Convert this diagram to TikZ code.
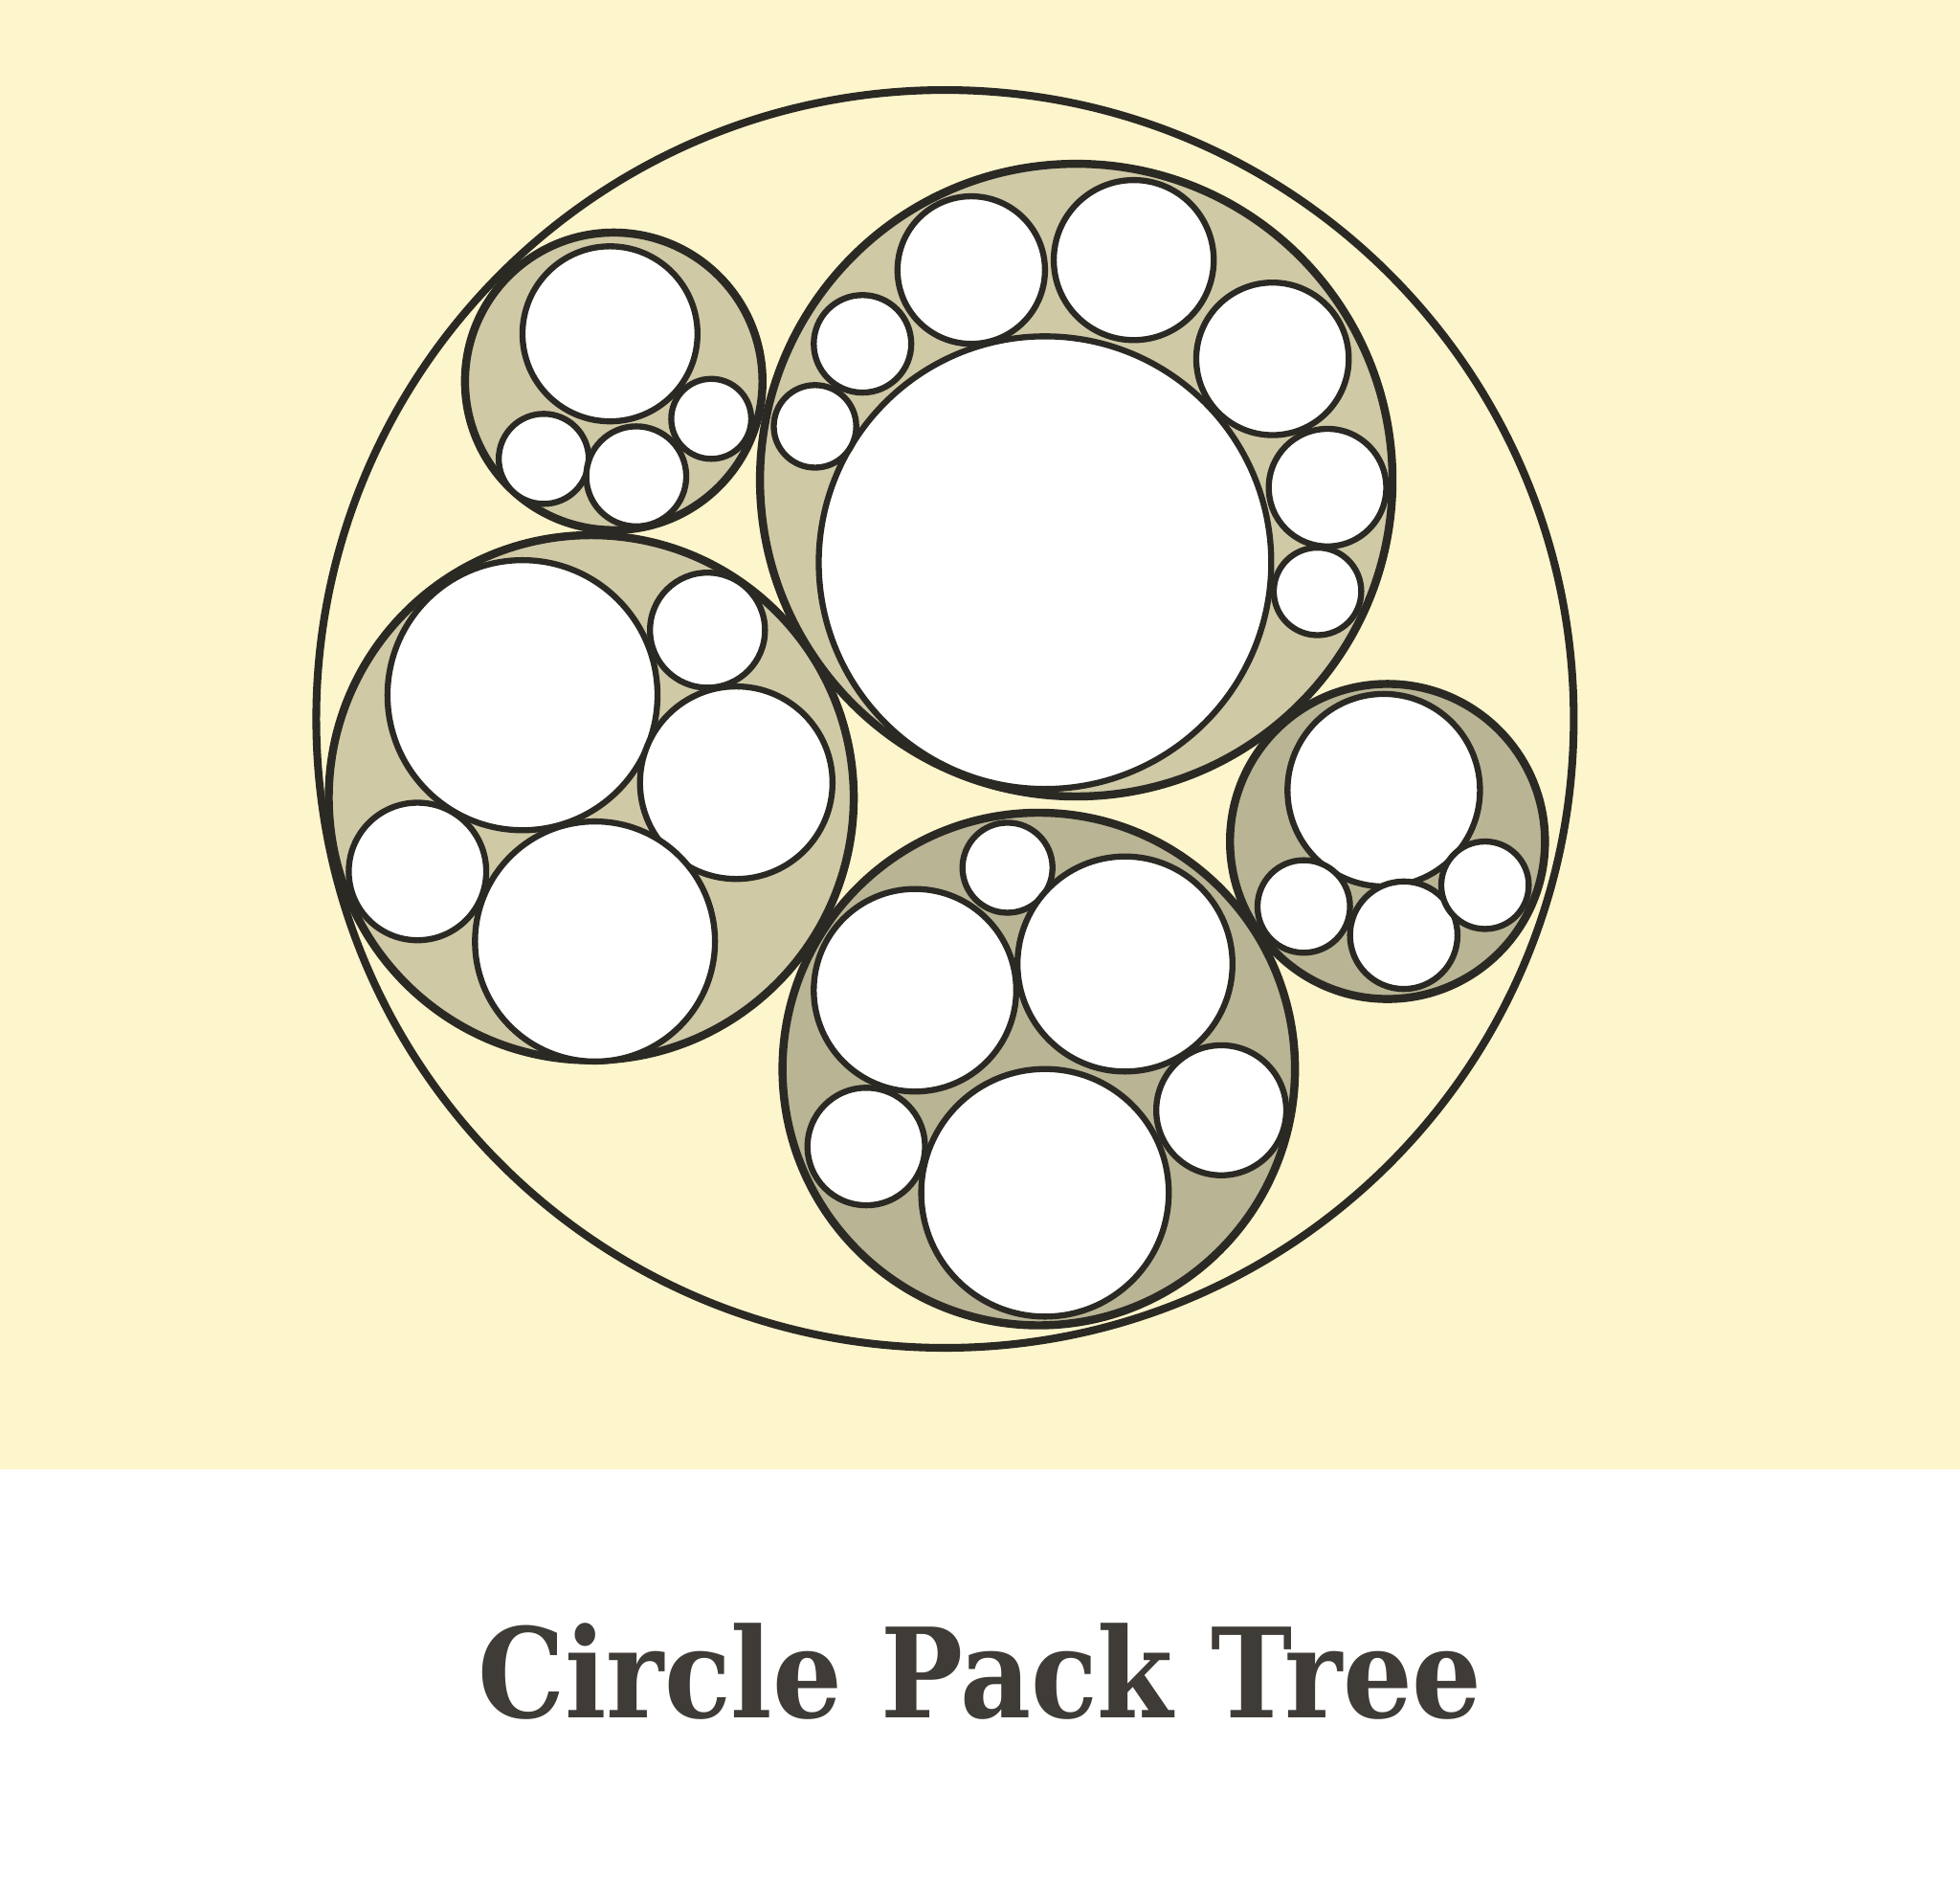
\documentclass[tikz,border=0pt]{standalone}
\usepackage{fontspec}
\newfontfamily\titlefont{DejaVu Serif}
\definecolor{bgyellow}{HTML}{FDF5CC}
\definecolor{inkc}{HTML}{2B2924}
\definecolor{khakiA}{HTML}{CFC9A6}
\definecolor{khakiB}{HTML}{B9B494}
\definecolor{titlec}{HTML}{3F3B36}
\tikzset{
  outerring/.style={draw=inkc, line width=2.3pt},
  groupA/.style={draw=inkc, fill=khakiA, line width=2.4pt},
  groupB/.style={draw=inkc, fill=khakiB, line width=2.4pt},
  leaf/.style={draw=inkc, fill=white, line width=1.8pt},
  titletext/.style={text=titlec, font=\titlefont\bfseries\fontsize{37}{40}\selectfont, inner sep=0pt}
}
\begin{document}
\begin{tikzpicture}[x=0.013061cm,y=-0.013061cm]
\useasboundingbox (0,0) rectangle (1568,1505);
\fill[white] (0,0) rectangle (1568,1505);
\fill[bgyellow] (0,0) rectangle (1568,1175);
% outer circle
\draw[outerring] (756,575) circle (503);
% group A (top-left)
\draw[groupA] (491,305) circle (119);
\draw[leaf] (488,267) circle (70);
\draw[leaf] (569,335) circle (32);
\draw[leaf] (435,367) circle (36);
\draw[leaf] (509,381) circle (40);
% group B (top-right)
\draw[groupA] (861,384) circle (253);
\draw[leaf] (836,450) circle (181);
\draw[leaf] (777,216) circle (59);
\draw[leaf] (907,208) circle (64);
\draw[leaf] (1018,287) circle (61);
\draw[leaf] (1062,390) circle (47);
\draw[leaf] (1054,473) circle (35);
\draw[leaf] (690,275) circle (39);
\draw[leaf] (652,341) circle (33);
% group C (left)
\draw[groupA] (473,638) circle (210);
\draw[leaf] (418,556) circle (108);
\draw[leaf] (566,504) circle (46);
\draw[leaf] (589,626) circle (77);
\draw[leaf] (334,697) circle (55);
\draw[leaf] (476,753) circle (96);
% group D (bottom)
\draw[groupB] (831,855) circle (205);
\draw[leaf] (806,694) circle (36);
\draw[leaf] (732,792) circle (81);
\draw[leaf] (900,771) circle (86);
\draw[leaf] (977,888) circle (52);
\draw[leaf] (693,917) circle (47);
\draw[leaf] (836,954) circle (99);
% group E (right)
\draw[groupB] (1110,673) circle (126);
\draw[leaf] (1107,632) circle (77);
\draw[leaf] (1043,725) circle (37);
\draw[leaf] (1123,748) circle (43);
\draw[leaf] (1188,708) circle (35);
% title
\node[titletext] (title) at (784,1337) {\scalebox{0.88}[1]{Circle Pack Tree}};
\end{tikzpicture}
\end{document}
